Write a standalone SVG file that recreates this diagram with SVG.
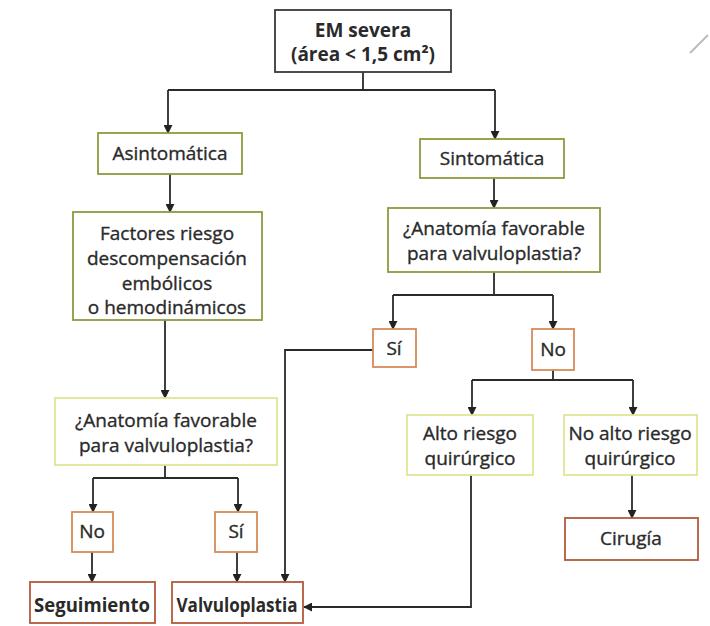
<svg xmlns="http://www.w3.org/2000/svg" width="710" height="626" viewBox="0 0 710 626">
  <defs>
    <marker id="arrow" viewBox="0 0 10 10" refX="9" refY="5" markerWidth="9" markerHeight="9" markerUnits="userSpaceOnUse" orient="auto">
      <path d="M0,0 L10,5 L0,10 Z" fill="#222"/>
    </marker>
    <style>
      .box { fill: #fff; stroke-width: 1.8; }
      .dark { stroke: #3a3a3a; }
      .olive { stroke: #8f9a3c; }
      .pale { stroke: #e2e596; }
      .orange { stroke: #d88a5a; }
      .red { stroke: #b25a3a; }
      .t { font-family: "Open Sans", "Noto Sans", "Liberation Sans", sans-serif; font-size: 19px; fill: #2a2a2a; stroke: #2a2a2a; stroke-width: 0.35; text-anchor: middle; }
      .b { font-weight: 700; stroke-width: 0; }
      .wire { fill: none; stroke: #2a2a2a; stroke-width: 1.8; }
    </style>
  </defs>
  <rect width="710" height="626" fill="#fff"/>

  <!-- stray pen stroke -->
  <line x1="690" y1="53" x2="708" y2="35" stroke="#bbb" stroke-width="2"/>

  <g id="connectors">
    <path class="wire" d="M363,72 V90"/>
    <path class="wire" d="M168,90 H495" />
    <path class="wire" d="M168,90 V133" marker-end="url(#arrow)"/>
    <path class="wire" d="M495,90 V139" marker-end="url(#arrow)"/>
    <path class="wire" d="M170,174 V212" marker-end="url(#arrow)"/>
    <path class="wire" d="M494,178 V208" marker-end="url(#arrow)"/>
    <path class="wire" d="M165,320 V398" marker-end="url(#arrow)"/>
    <path class="wire" d="M494,272 V295 M393,295 H553"/>
    <path class="wire" d="M393,295 V329" marker-end="url(#arrow)"/>
    <path class="wire" d="M553,295 V329" marker-end="url(#arrow)"/>
    <path class="wire" d="M165,465 V478 M93,478 H238"/>
    <path class="wire" d="M93,478 V512" marker-end="url(#arrow)"/>
    <path class="wire" d="M238,478 V512" marker-end="url(#arrow)"/>
    <path class="wire" d="M92,552 V582" marker-end="url(#arrow)"/>
    <path class="wire" d="M237,552 V582" marker-end="url(#arrow)"/>
    <path class="wire" d="M373,350 H285 V582" marker-end="url(#arrow)"/>
    <path class="wire" d="M553,370 V380 M472,380 H633"/>
    <path class="wire" d="M472,380 V415" marker-end="url(#arrow)"/>
    <path class="wire" d="M633,380 V415" marker-end="url(#arrow)"/>
    <path class="wire" d="M632,475 V518" marker-end="url(#arrow)"/>
    <path class="wire" d="M471,475 V607 H304" marker-end="url(#arrow)"/>
  </g>

  <g id="em-severa">
    <rect class="box dark" x="275" y="10" width="176" height="62"/>
    <text class="t b" x="363" y="37">EM severa</text>
    <text class="t b" x="363" y="61">(área &lt; 1,5 cm²)</text>
  </g>

  <g id="asintomatica">
    <rect class="box olive" x="98" y="133" width="144" height="41"/>
    <text class="t" x="170" y="160">Asintomática</text>
  </g>

  <g id="factores">
    <rect class="box olive" x="73" y="212" width="189" height="108"/>
    <text class="t" x="167" y="240">Factores riesgo</text>
    <text class="t" x="167" y="265">descompensación</text>
    <text class="t" x="167" y="290">embólicos</text>
    <text class="t" x="167" y="314">o hemodinámicos</text>
  </g>

  <g id="sintomatica">
    <rect class="box olive" x="420" y="139" width="144" height="39"/>
    <text class="t" x="492" y="165">Sintomática</text>
  </g>

  <g id="anatomia-sint">
    <rect class="box olive" x="388" y="208" width="212" height="64"/>
    <text class="t" x="494" y="235">¿Anatomía favorable</text>
    <text class="t" x="494" y="260">para valvuloplastia?</text>
  </g>

  <g id="si-sint">
    <rect class="box orange" x="373" y="329" width="43" height="38"/>
    <text class="t" x="394" y="355">Sí</text>
  </g>

  <g id="no-sint">
    <rect class="box orange" x="532" y="329" width="42" height="41"/>
    <text class="t" x="553" y="356">No</text>
  </g>

  <g id="alto-riesgo">
    <rect class="box pale" x="407" y="415" width="126" height="60"/>
    <text class="t" x="470" y="440">Alto riesgo</text>
    <text class="t" x="470" y="465">quirúrgico</text>
  </g>

  <g id="no-alto-riesgo">
    <rect class="box pale" x="564" y="415" width="133" height="60"/>
    <text class="t" x="630" y="440">No alto riesgo</text>
    <text class="t" x="630" y="465">quirúrgico</text>
  </g>

  <g id="cirugia">
    <rect class="box red" x="565" y="518" width="133" height="42"/>
    <text class="t" x="631" y="545">Cirugía</text>
  </g>

  <g id="anatomia-asint">
    <rect class="box pale" x="55" y="398" width="222" height="67"/>
    <text class="t" x="166" y="427">¿Anatomía favorable</text>
    <text class="t" x="166" y="452">para valvuloplastia?</text>
  </g>

  <g id="no-asint">
    <rect class="box orange" x="72" y="512" width="41" height="40"/>
    <text class="t" x="92" y="538">No</text>
  </g>

  <g id="si-asint">
    <rect class="box orange" x="215" y="512" width="42" height="40"/>
    <text class="t" x="236" y="538">Sí</text>
  </g>

  <g id="seguimiento">
    <rect class="box red" x="30" y="582" width="125" height="41"/>
    <text class="t b" x="92" y="612" textLength="116" lengthAdjust="spacingAndGlyphs">Seguimiento</text>
  </g>

  <g id="valvuloplastia">
    <rect class="box red" x="172" y="582" width="131" height="41"/>
    <text class="t b" x="237" y="612" textLength="121" lengthAdjust="spacingAndGlyphs">Valvuloplastia</text>
  </g>
</svg>
